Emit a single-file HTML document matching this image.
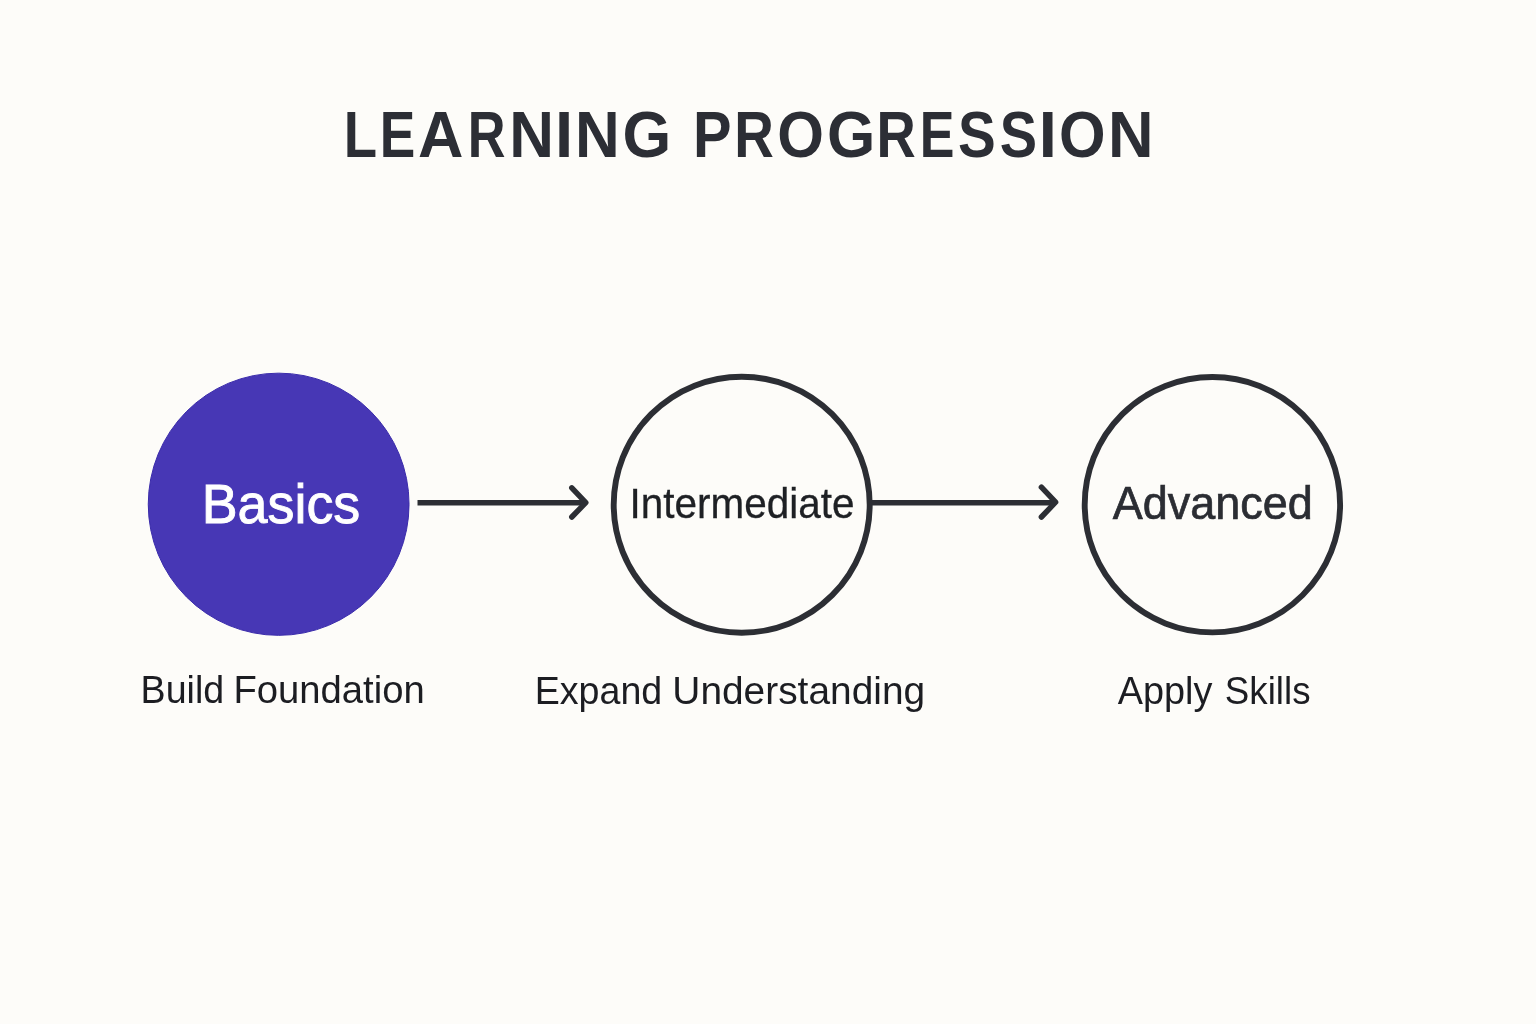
<!DOCTYPE html>
<html>
<head>
<meta charset="utf-8">
<style>
html,body{margin:0;padding:0;}
body{width:1536px;height:1024px;overflow:hidden;background:#FDFCF9;position:relative;font-family:"Liberation Sans",sans-serif;}
svg{position:absolute;left:0;top:0;will-change:transform;}
text{font-family:"Liberation Sans",sans-serif;}
</style>
</head>
<body>
<svg width="1536" height="1024" viewBox="0 0 1536 1024">
<text transform="translate(343.65,157) scale(0.8381,1)" font-size="65.1" font-weight="700" fill="#2C2E35" >L</text>
<text transform="translate(379.83,157) scale(0.8187,1)" font-size="65.1" font-weight="700" fill="#2C2E35" >E</text>
<text transform="translate(418.03,157) scale(0.9662,1)" font-size="65.1" font-weight="700" fill="#2C2E35" >A</text>
<text transform="translate(467.80,157) scale(0.8034,1)" font-size="65.1" font-weight="700" fill="#2C2E35" >R</text>
<text transform="translate(509.16,157) scale(0.9511,1)" font-size="65.1" font-weight="700" fill="#2C2E35" >N</text>
<text transform="translate(555.06,157) scale(1.0000,1)" font-size="65.1" font-weight="700" fill="#2C2E35" >I</text>
<text transform="translate(575.06,157) scale(0.9511,1)" font-size="65.1" font-weight="700" fill="#2C2E35" >N</text>
<text transform="translate(622.43,157) scale(0.9629,1)" font-size="65.1" font-weight="700" fill="#2C2E35" >G</text>
<text transform="translate(692.93,157) scale(0.8876,1)" font-size="65.1" font-weight="700" fill="#2C2E35" >P</text>
<text transform="translate(734.23,157) scale(0.8421,1)" font-size="65.1" font-weight="700" fill="#2C2E35" >R</text>
<text transform="translate(777.14,157) scale(0.9219,1)" font-size="65.1" font-weight="700" fill="#2C2E35" >O</text>
<text transform="translate(826.95,157) scale(0.9538,1)" font-size="65.1" font-weight="700" fill="#2C2E35" >G</text>
<text transform="translate(876.56,157) scale(0.8349,1)" font-size="65.1" font-weight="700" fill="#2C2E35" >R</text>
<text transform="translate(919.72,157) scale(0.7995,1)" font-size="65.1" font-weight="700" fill="#2C2E35" >E</text>
<text transform="translate(957.97,157) scale(0.8692,1)" font-size="65.1" font-weight="700" fill="#2C2E35" >S</text>
<text transform="translate(999.79,157) scale(0.8589,1)" font-size="65.1" font-weight="700" fill="#2C2E35" >S</text>
<text transform="translate(1038.76,157) scale(1.0000,1)" font-size="65.1" font-weight="700" fill="#2C2E35" >I</text>
<text transform="translate(1058.94,157) scale(0.9197,1)" font-size="65.1" font-weight="700" fill="#2C2E35" >O</text>
<text transform="translate(1107.98,157) scale(0.9694,1)" font-size="65.1" font-weight="700" fill="#2C2E35" >N</text>
<ellipse cx="278.65" cy="504.25" rx="130.4" ry="131.1" fill="#4737B5" stroke="#3A2BAA" stroke-width="1"/>
<text transform="translate(201.68,522.8) scale(0.9545,1)" font-size="56.4" font-weight="400" fill="#FFFFFF" stroke="#FFFFFF" stroke-width="0.9">Basics</text>
<line x1="417.5" y1="502.7" x2="585" y2="502.7" stroke="#2C2E34" stroke-width="5.5"/>
<polyline points="571.8,487.8 585.8,502.6 571.8,517" fill="none" stroke="#2C2E34" stroke-width="5.5" stroke-linecap="round" stroke-linejoin="round"/>
<circle cx="741.7" cy="504.7" r="128" fill="none" stroke="#2C2E34" stroke-width="5.9"/>
<text transform="translate(629.56,517.5) scale(0.9548,1)" font-size="42.4" font-weight="400" fill="#1E2024" stroke="#1E2024" stroke-width="0.3">Intermediate</text>
<line x1="872" y1="502.8" x2="1054" y2="502.8" stroke="#2C2E34" stroke-width="5.5"/>
<polyline points="1041.4,487.2 1055.6,502.2 1041.4,517" fill="none" stroke="#2C2E34" stroke-width="5.5" stroke-linecap="round" stroke-linejoin="round"/>
<circle cx="1212.4" cy="504.7" r="127.7" fill="none" stroke="#2C2E34" stroke-width="5.9"/>
<text transform="translate(1112.81,519.1) scale(0.9670,1)" font-size="46.5" font-weight="400" fill="#2B2D33" stroke="#2B2D33" stroke-width="0.7">Advanced</text>
<text transform="translate(140.62,703.3) scale(0.9519,1)" font-size="39.5" font-weight="400" fill="#1C1D22" >Build</text>
<text transform="translate(233.47,703.3) scale(0.9674,1)" font-size="39.5" font-weight="400" fill="#1C1D22" >Foundation</text>
<text transform="translate(534.72,703.7) scale(0.9689,1)" font-size="38.8" font-weight="400" fill="#1C1D22" >Expand</text>
<text transform="translate(672.30,703.7) scale(1.0025,1)" font-size="38.8" font-weight="400" fill="#1C1D22" >Understanding</text>
<text transform="translate(1117.83,703.7) scale(0.9579,1)" font-size="39.5" font-weight="400" fill="#1C1D22" >Apply</text>
<text transform="translate(1224.83,703.7) scale(0.9297,1)" font-size="39.5" font-weight="400" fill="#1C1D22" >Skills</text>
</svg>
</body>
</html>
